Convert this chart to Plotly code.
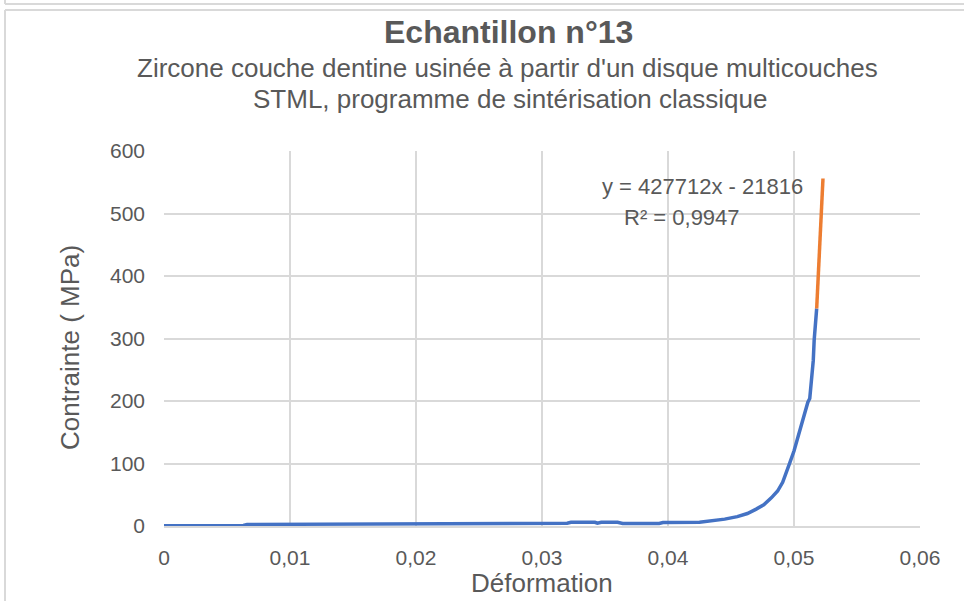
import plotly.graph_objects as go

# Data
strain_main = [0, 0.0063, 0.0066, 0.0187, 0.0190, 0.0225, 0.0232, 0.0320, 0.0323, 0.0342,
               0.0344, 0.0347, 0.0360, 0.0364, 0.0393, 0.0396, 0.0425, 0.0434, 0.0445, 0.0455,
               0.0463, 0.0470, 0.0476, 0.0482, 0.0487, 0.0491, 0.0494, 0.0497, 0.0500, 0.0503,
               0.0506, 0.0509, 0.0511, 0.05125, 0.0514, 0.05153, 0.0516, 0.05165, 0.0517, 0.0518]
stress_main = [0.5, 0.8, 2.5, 3, 4, 4.5, 4, 4.5, 6, 6,
               4.5, 6, 6, 4, 4, 5.5, 6, 8, 11, 15,
               20, 27, 34, 45, 56, 70, 85, 103, 120, 142,
               162, 185, 198, 204, 238, 265, 297, 308, 330, 348]

strain_fit = [0.0518, 0.05187, 0.05193, 0.0520, 0.05206, 0.05214, 0.05218, 0.05226, 0.0523]
stress_fit = [348, 375, 414, 451, 467, 504, 520, 552, 556]

x_ticks = [0, 0.01, 0.02, 0.03, 0.04, 0.05, 0.06]
y_ticks = [0, 100, 200, 300, 400, 500, 600]

title = "Echantillon n°13"
subtitle1 = "Zircone couche dentine usinée à partir d'un disque multicouches"
subtitle2 = "STML, programme de sintérisation classique"
eq_text = "y = 427712x - 21816"
r2_text = "R² = 0,9947"

TXT = "#595959"
GRID = "#d9d9d9"
FONT = "Liberation Sans, Arial, sans-serif"

fig = go.Figure()
fig.add_trace(go.Scatter(x=strain_main, y=stress_main, mode="lines",
                         line=dict(color="#4472c4", width=3.5), showlegend=False))
fig.add_trace(go.Scatter(x=strain_fit, y=stress_fit, mode="lines",
                         line=dict(color="#ed7d31", width=3.5), showlegend=False))

L, R, T, B = 164, 44, 151, 75
W, H = 964, 601
pw, ph = W - L - R, H - T - B

def px(x):
    return (x - L) / pw

def py(y):
    return (H - B - y) / ph

fig.update_layout(
    width=W, height=H,
    margin=dict(l=L, r=R, t=T, b=B, pad=0),
    paper_bgcolor="white", plot_bgcolor="white",
    separators=", ",
    font=dict(family=FONT, color=TXT),
    xaxis=dict(range=[0, 0.06], tickvals=x_ticks, showgrid=True, gridcolor=GRID, gridwidth=1.5,
               zeroline=False, showline=True, linecolor=GRID, linewidth=1.5,
               tickfont=dict(size=21, color=TXT), ticks="", ticklabelstandoff=12,
               tickformat="~g", mirror=False),
    yaxis=dict(range=[0, 600], tickvals=y_ticks, showgrid=True, gridcolor=GRID, gridwidth=1.5,
               zeroline=False, showline=False,
               tickfont=dict(size=21, color=TXT), ticks="", ticklabelstandoff=18),
)

annotations = [
    dict(text="<b>" + title + "</b>", x=px(508), y=py(32), font=dict(size=32, color=TXT)),
    dict(text=subtitle1, x=px(507), y=py(68), font=dict(size=26, color=TXT)),
    dict(text=subtitle2, x=px(510), y=py(99), font=dict(size=26, color=TXT)),
    dict(text="Déformation", x=px(542), y=py(583), font=dict(size=26, color=TXT)),
    dict(text="Contrainte ( MPa)", x=px(70), y=py(348), textangle=-90, font=dict(size=26, color=TXT)),
    dict(text=eq_text, x=px(702), y=py(186), font=dict(size=22, color=TXT)),
    dict(text=r2_text, x=px(682), y=py(217), font=dict(size=22, color=TXT)),
]
for a in annotations:
    fig.add_annotation(xref="paper", yref="paper", showarrow=False,
                       xanchor="center", yanchor="middle", **a)

frame = dict(color=GRID, width=2)
shapes = [
    dict(x0=px(5), x1=px(964), y0=py(4), y1=py(4)),
    dict(x0=px(5), x1=px(5), y0=py(0), y1=py(4)),
    dict(x0=px(5), x1=px(964), y0=py(10), y1=py(10)),
    dict(x0=px(5), x1=px(5), y0=py(10), y1=py(601)),
]
for s in shapes:
    fig.add_shape(type="line", xref="paper", yref="paper", line=frame, layer="below", **s)

fig.write_html(
    "out.html",
    config={"displayModeBar": False},
    post_script="document.body.style.margin='0';document.body.style.overflow='hidden';",
)
